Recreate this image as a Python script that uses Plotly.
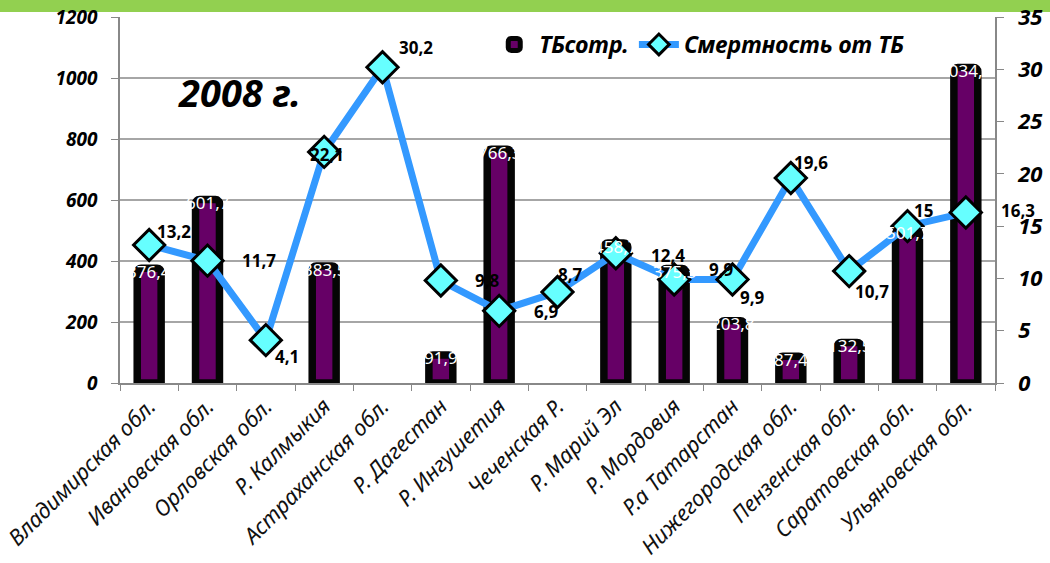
import plotly.graph_objects as go

categories = ["Владимирская обл.", "Ивановская обл.", "Орловская обл.", "Р. Калмыкия",
              "Астраханская обл.", "Р. Дагестан", "Р. Ингушетия", "Чеченская Р.",
              "Р. Марий Эл", "Р. Мордовия", "Р.а Татарстан", "Нижегородская обл.",
              "Пензенская обл.", "Саратовская обл.", "Ульяновская обл."]
tb_cases = [376.4, 601.7, None, 383.5, None, 91.9, 766.3, None, 458.7, 375.3,
            203.8, 87.4, 132.5, 501.7, 1034.2]
tb_mortality = [13.2, 11.7, 4.1, 22.1, 30.2, 9.8, 6.9, 8.7, 12.4, 9.9, 9.9,
                19.6, 10.7, 15, 16.3]
left_ticks = [0, 200, 400, 600, 800, 1000, 1200]
right_ticks = [0, 5, 10, 15, 20, 25, 30, 35]

# label pixel offsets for mortality labels (styling only)
mort_label_dx = [25, 51, 21, 3, 33, 47, 47, 13, 52, 47, 20, 20, 23, 16, 52]
mort_label_dy = [13, 0, -16, -3, 20, 0, -1, 18, -2, 10, -18, 16, -20, 16, 2]

FONT = "Noto Sans"


def fmt(v):
    return f"{v:g}".replace(".", ",")


fig = go.Figure()
fig.add_trace(go.Bar(
    x=categories, y=tb_cases, name="ТБсотр.",
    marker=dict(color="#660066", line=dict(color="#050505", width=7.5), cornerradius=4),
    width=0.41, yaxis="y",
))
fig.add_trace(go.Scatter(
    x=categories, y=tb_mortality, name="Смертность от ТБ", mode="lines+markers",
    line=dict(color="#3399FF", width=7),
    marker=dict(symbol="diamond", size=24, color="#66FFFF", line=dict(color="#000000", width=3)),
    yaxis="y2", cliponaxis=False,
))

annotations = []
for c, v in zip(categories, tb_cases):
    if v is None:
        continue
    annotations.append(dict(x=c, y=v, xref="x", yref="y", text=fmt(v), showarrow=False,
                            xanchor="center", yanchor="middle", yshift=-3,
                            font=dict(family=FONT, size=17, color="white")))
for c, v, dx, dy in zip(categories, tb_mortality, mort_label_dx, mort_label_dy):
    annotations.append(dict(x=c, y=v, xref="x", yref="y2", text=f"<b>{fmt(v)}</b>", showarrow=False,
                            xanchor="center", yanchor="middle", xshift=dx, yshift=dy,
                            font=dict(family=FONT, size=17, color="black")))
annotations.append(dict(x=0.137, y=0.795, xref="paper", yref="paper", text="<b><i>2008 г.</i></b>",
                        showarrow=False, xanchor="center", yanchor="middle",
                        font=dict(family=FONT, size=38, color="black")))

fig.update_layout(
    width=1050, height=563,
    margin=dict(l=120, r=55, t=17, b=180),
    paper_bgcolor="white", plot_bgcolor="white",
    showlegend=True,
    legend=dict(orientation="h", x=0.422, y=0.925, xanchor="left", yanchor="middle",
                bgcolor="rgba(0,0,0,0)", itemwidth=40,
                font=dict(family=FONT, size=23, color="black", style="italic", weight="bold")),
    xaxis=dict(
        automargin=False,
        tickangle=-45, tickson="boundaries", ticks="outside", ticklen=6, tickcolor="#888888",
        showline=True, linecolor="#888888", linewidth=1.5, showgrid=False,
        tickfont=dict(family=FONT, size=22, color="#111111", style="italic"),
        range=[-0.5, 14.5],
    ),
    yaxis=dict(
        automargin=False,
        range=[0, 1200], tickvals=left_ticks, ticks="outside", ticklen=7, tickcolor="#888888",
        showline=True, linecolor="#888888", linewidth=1.5,
        showgrid=True, gridcolor="#A6A6A6", gridwidth=1.5, zeroline=False,
        ticklabelstandoff=10,
        tickfont=dict(family=FONT, size=19, color="black", style="italic", weight="bold"),
    ),
    yaxis2=dict(
        automargin=False,
        range=[0, 35], tickvals=right_ticks, overlaying="y", side="right",
        ticks="outside", ticklen=7, tickcolor="#888888",
        showline=True, linecolor="#888888", linewidth=1.5, showgrid=False, zeroline=False,
        ticklabelstandoff=10,
        tickfont=dict(family=FONT, size=22, color="black", style="italic", weight="bold"),
    ),
    annotations=annotations,
    shapes=[dict(type="rect", xref="paper", yref="paper", x0=-120 / 875, x1=930 / 875,
                 y0=(383 - 12) / 366, y1=383 / 366, fillcolor="#92D050", line=dict(width=0),
                 layer="below")],
)

fig.write_html("out.html", config={"displayModeBar": False},
               post_script="document.body.style.margin='0px';")
